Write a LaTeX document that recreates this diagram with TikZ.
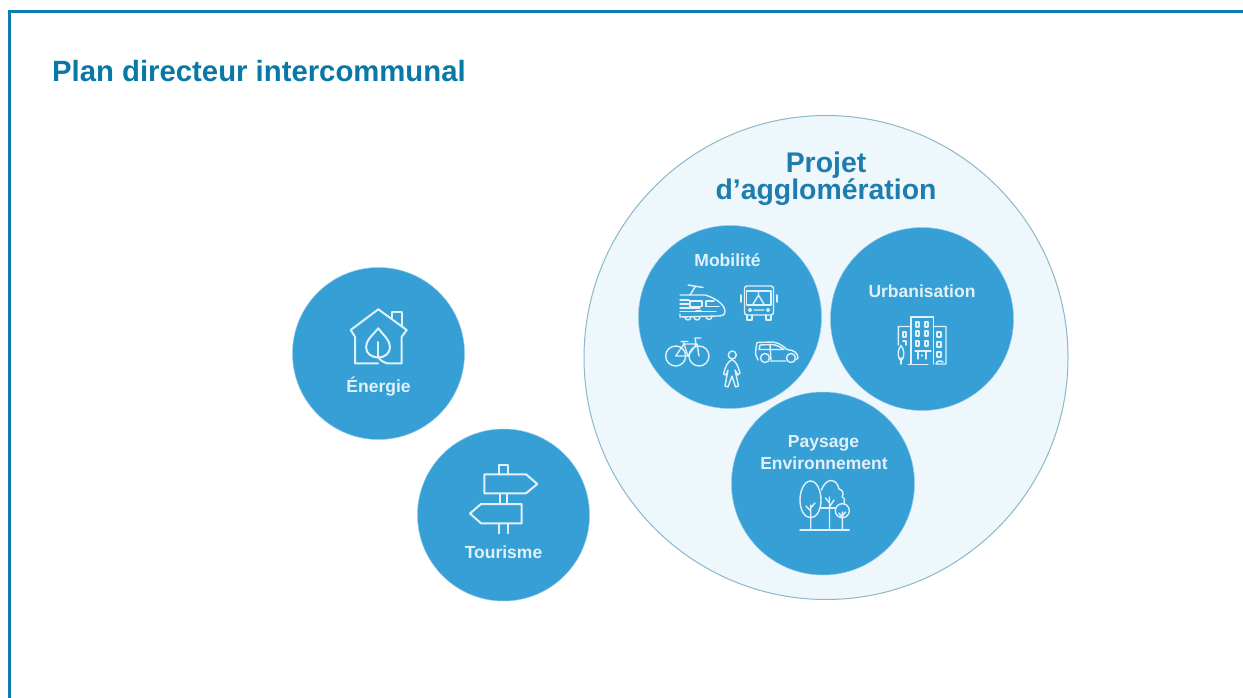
\documentclass[tikz,border=0pt]{standalone}
\usepackage{fontspec}
\setmainfont{Liberation Sans}
\definecolor{framec}{HTML}{0A7FAD}
\definecolor{titlec}{HTML}{0878A6}
\definecolor{discc}{HTML}{369FD5}
\definecolor{paleC}{HTML}{EEF7FB}
\definecolor{ringc}{HTML}{8DB8C9}
\definecolor{iconc}{HTML}{E0F1FA}
\definecolor{headc}{HTML}{1F7DAE}
\tikzset{
  disc/.style={circle,fill=discc,draw=discc!55!white,line width=.5pt,inner sep=0pt},
  smalldisc/.style={disc,minimum size=172pt},
  middisc/.style={disc,minimum size=183pt},
  bigdisc/.style={circle,fill=paleC,draw=ringc,line width=1pt,inner sep=0pt,minimum size=484pt},
  label/.style={anchor=base,inner sep=0pt,text=iconc,font=\fontsize{17.5}{20}\selectfont\bfseries},
  headline/.style={anchor=base,inner sep=0pt,text=headc,font=\fontsize{28.4}{30}\selectfont\bfseries},
  icon/.style={draw=iconc,line width=2pt,line join=round,line cap=round,fill=none},
  thinicon/.style={icon,line width=1.4pt}
}
\begin{document}
\begin{tikzpicture}[x=1pt,y=-1pt]
\useasboundingbox (0,0) rectangle (1243,698);
\fill[white] (0,0) rectangle (1243,698);
% frame
\draw[framec,line width=3pt] (9.5,698) -- (9.5,11.5) -- (1243,11.5);
\node[anchor=base west,inner sep=0pt,text=titlec,font=\fontsize{29.3}{32}\selectfont\bfseries] (title) at (52,81.5) {Plan directeur intercommunal};
% circles
\node[bigdisc] (agglo) at (826,357.5) {};
\node[middisc] (mob) at (730,317) {};
\node[middisc] (urb) at (922,319) {};
\node[middisc] (pay) at (823,483.5) {};
\node[smalldisc] (ene) at (378.5,353.5) {};
\node[smalldisc] (tou) at (503.5,515) {};
% texts
\node[headline] (h1) at (826,172) {Projet};
\node[headline] (h2) at (826,200) {d’agglomération};
\node[label] (l1) at (727.5,266) {Mobilité};
\node[label] (l2) at (922,297) {Urbanisation};
\node[label] (l3) at (823.5,447) {Paysage};
\node[label] (l4) at (824,469) {Environnement};
\node[label] (l5) at (378.5,392) {Énergie};
\node[label] (l6) at (503.5,558) {Tourisme};
% house icon
\draw[icon] (378,363.3) -- (355,363.3) -- (355,336.7) -- (350.7,330) -- (378.3,309.3) -- (406.7,330) -- (401.7,336.7) -- (401.7,363.3) -- (386.7,363.3);
\draw[icon] (391.7,318) -- (391.7,311.7) -- (401.7,311.7) -- (401.7,325.5);
\draw[icon] (378.3,328.3) .. controls (372,336) and (366,340) .. (366,347) .. controls (366,354) and (372,357.5) .. (378.3,357.5) .. controls (385,357.5) and (390,353) .. (390,347) .. controls (390,340) and (384,336) .. (378.3,328.3) -- cycle;
\draw[icon] (377.5,342) -- (377.5,357.3);
\draw[icon] (378.3,357.5) .. controls (381,361) and (384,362.5) .. (387,363.3);
% signpost icon
\draw[icon] (484.3,474.3) -- (526,474.3) -- (537.3,484) -- (526,493.3) -- (484.3,493.3) -- cycle;
\draw[icon] (499,474.3) -- (499,465) -- (508.3,465) -- (508.3,474.3);
\draw[icon] (500,493.3) -- (500,504) (507.3,493.3) -- (507.3,504);
\draw[icon] (521.7,504) -- (481,504) -- (470,513.5) -- (481,523.3) -- (521.7,523.3) -- cycle;
\draw[icon] (499.3,523.3) -- (499.3,533.3) (507.7,523.3) -- (507.7,533.3);
% train
\draw[thinicon] (680,295) -- (705,295) .. controls (716,298) and (725,305) .. (725,311.5) .. controls (725,315) and (722,316) .. (718,316) -- (680,317) -- (680,314);
\draw[thinicon] (680,300) -- (689,300) (680,304) -- (689,304) (680,308) -- (700,308) (680,311.5) -- (716,311.5);
\draw[thinicon] (690,301) rectangle (702,306.5);
\draw[thinicon] (706,301) -- (714,301) (706,301) -- (706,306.5) -- (719,306.5);
\draw[thinicon] (688,285) -- (703,287.5) (695,287) -- (690,295);
\draw[thinicon] (685,317) arc (180:0:3) (694,317) arc (180:0:3) (706,316.5) arc (180:0:3);
\draw[thinicon] (696,311) -- (701,311);
% bus
\draw[thinicon,rounded corners=2.5pt] (744.5,286) -- (773.5,286) -- (773.5,315) -- (744.5,315) -- cycle;
\draw[thinicon] (746.5,291) rectangle (771,305);
\draw[thinicon] (758.5,291) -- (758.5,295) -- (752.5,305) (758.5,295) -- (764.5,305);
\draw[thinicon] (741,295) -- (741,302) (777,295) -- (777,302);
\draw[thinicon] (747,315) -- (747,320) -- (752,320) -- (752,315) (766,315) -- (766,320) -- (771,320) -- (771,315);
\draw[thinicon] (750,310) circle (1.5) (768,310) circle (1.5) (754,310) -- (764,310);
% bike
\draw[thinicon] (675.7,356) circle (10) (699,356) circle (10);
\draw[thinicon] (675.7,356) -- (684,344) -- (697,344) -- (699,356) (684,344) -- (688,356) -- (696.5,344) (675.7,356) -- (688,356);
\draw[thinicon] (681,341.5) -- (688,341.5) (684,344) -- (683,341.5) (696,344) -- (695,338) -- (701,338);
% pedestrian
\draw[thinicon] (732.3,355) circle (4);
\draw[thinicon] (732,359.5) .. controls (727,362) and (725,368) .. (723.5,374) -- (726,375) -- (728,370) -- (725,386) -- (728,387) -- (732,376) -- (735.5,387) -- (738.5,386) -- (735,370) -- (738,375) -- (740,373) .. controls (738,367) and (737,362) .. (732,359.5);
% car
\draw[thinicon] (758,360) -- (755.5,354) -- (756,348) -- (757,342.5) -- (773,342) .. controls (780,343) and (784,347) .. (787,349.5) .. controls (794,350) and (798,353) .. (798,358) -- (796,360) (770,361) -- (786,361);
\draw[thinicon] (765,358) circle (4.5) (791,358) circle (4.5);
\draw[thinicon] (760,345) -- (772,344.5) .. controls (777,345) and (781,347.5) .. (784,349.5) -- (759,349.5) -- cycle (770,344.5) -- (771,360);
% buildings
\draw[thinicon] (911,364) -- (911,317) -- (933.3,317) -- (933.3,364);
\draw[thinicon] (911,326.5) -- (898.3,326.5) -- (898.3,345) (933.3,326.5) -- (946,326.5) -- (946,364) -- (936,364) .. controls (936,361) and (941,360) .. (943,362);
\draw[thinicon] (908,364.5) -- (928,364.5);
\draw[thinicon] (916,322) rectangle (919,327) (925,322) rectangle (928,327)
                (916,331) rectangle (919,336) (925,331) rectangle (928,336)
                (916,341) rectangle (919,346) (925,341) rectangle (928,346);
\draw[thinicon] (903,332) rectangle (906,337) (903,341) -- (906,341) -- (906,345)
                (937,332) rectangle (941,337) (937,342) rectangle (941,347) (937,352) rectangle (941,357);
\draw[thinicon] (915,351) -- (931,351) (918,351) -- (918,359) (926,351) -- (926,359) (922,355) -- (922,356);
\draw[thinicon] (901,345.5) .. controls (898,349) and (897.5,355) .. (899,358) .. controls (900,361) and (902,361) .. (903,358) .. controls (904.5,355) and (904,349) .. (901,345.5) -- cycle;
\draw[thinicon] (901,358) -- (901,364);
% trees
\draw[thinicon] (800,530) -- (849.3,530);
\draw[thinicon] (810.7,481) .. controls (804,481) and (800,491) .. (800,500) .. controls (800,511) and (805,517.7) .. (810.7,517.7) .. controls (816,517.7) and (821,511) .. (821,500) .. controls (821,491) and (817,481) .. (810.7,481) -- cycle;
\draw[thinicon] (810.7,505) -- (810.7,530) (810.7,511) -- (806,506) (810.7,508) -- (815,503);
\draw[thinicon] (821.5,490) .. controls (824,483) and (828,480.5) .. (831,480.5) .. controls (836,480.5) and (838,485) .. (839,489) .. controls (843,490) and (844,494) .. (842,497) .. controls (845,498) and (845,501) .. (844,503);
\draw[thinicon] (829.5,497) -- (829.5,530) (829.5,503) -- (825.5,498) (829.5,507) -- (834,500);
\draw[thinicon] (821,508) -- (835.5,508);
\draw[thinicon] (842.3,510.7) circle (7);
\draw[thinicon] (842.3,512) -- (842.3,530) (842.3,518) -- (839,513) (842.3,516) -- (845.5,512);
\end{tikzpicture}
\end{document}
